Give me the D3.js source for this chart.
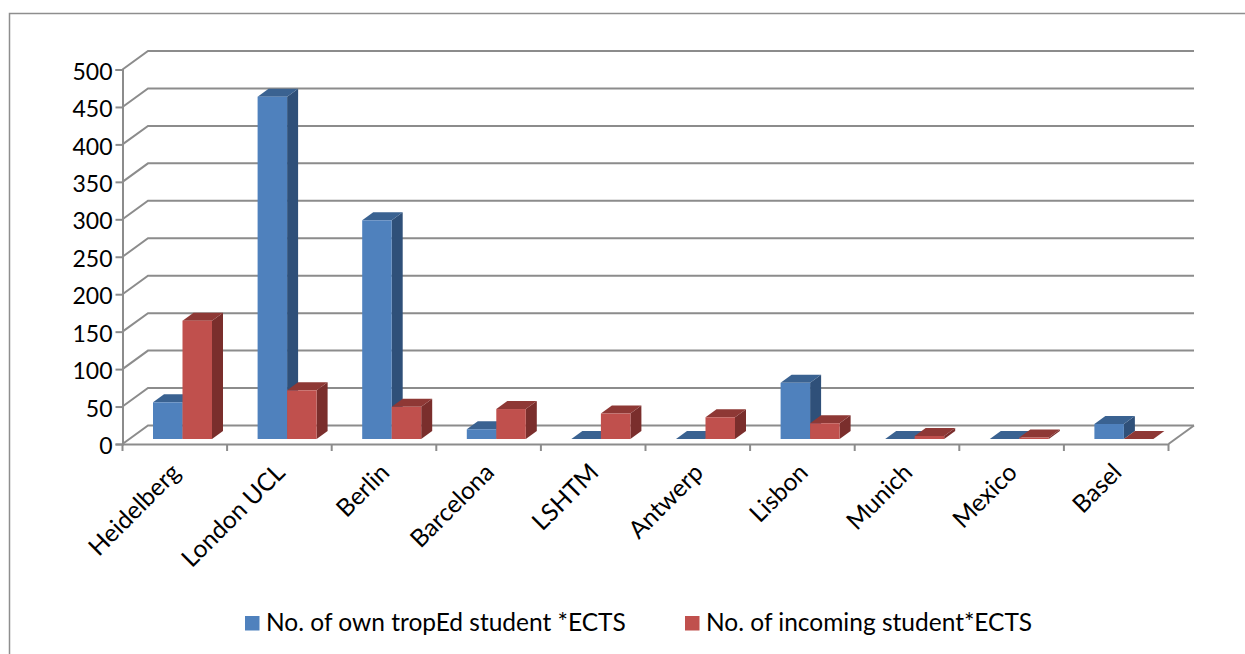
<!DOCTYPE html>
<html>
<head>
<meta charset="utf-8">
<script src="https://cdn.jsdelivr.net/npm/d3@7"></script>
<style>
html, body { margin: 0; padding: 0; background: #fff; }
svg { display: block; }
text { font-family: Lato, sans-serif; fill: #000; }
</style>
</head>
<body>
<div id="chart"></div>
<script>
var categories = ["Heidelberg", "London UCL", "Berlin", "Barcelona", "LSHTM", "Antwerp", "Lisbon", "Munich", "Mexico", "Basel"];
var ownStudents = [49, 457, 292, 13, 0, 0, 75, 0, 0, 20];
var incomingStudents = [158, 65, 43, 40, 34, 29, 21, 4, 2, 0];
var seriesNames = ["No. of own tropEd student *ECTS", "No. of incoming student*ECTS"];
var yTicks = [0, 50, 100, 150, 200, 250, 300, 350, 400, 450, 500];

var width = 1245, height = 654;
var svg = d3.select("#chart").append("svg")
  .attr("width", width)
  .attr("height", height);

// 3d look: wall is shifted from the front plane, bars sit in between
var wallDx = 25.5, wallDy = -18.5;
var barDx = 11, barDy = -8;
var barShiftX = 0, barShiftY = -5;
var gridColor = "#8c8c8c";

var x = d3.scaleBand().domain(categories).range([122.5, 1168.5]);
var y = d3.scaleLinear().domain([0, 500]).range([444, 69.5]);

// chart frame, open to the right and bottom like in the picture
svg.append("path")
  .attr("d", "M9.5,654V13.5H1245")
  .attr("fill", "none")
  .attr("stroke", "#8e8e8e")
  .attr("stroke-width", 1.5);

// gridlines on the wall
var grid = svg.append("g");
grid.selectAll("path")
  .data(yTicks)
  .enter()
  .append("path")
  .attr("d", function(d) {
    return "M" + x.range()[0] + "," + y(d) + "L" + (x.range()[0] + wallDx) + "," + (y(d) + wallDy) + "H" + (x.range()[1] + wallDx);
  })
  .attr("fill", "none")
  .attr("stroke", gridColor)
  .attr("stroke-width", 2);
grid.append("path")
  .attr("d", "M" + x.range()[1] + "," + y(0) + "L" + (x.range()[1] + wallDx) + "," + (y(0) + wallDy))
  .attr("fill", "none")
  .attr("stroke", gridColor)
  .attr("stroke-width", 2);

// axes
var yAxis = d3.axisLeft(y).tickValues(yTicks).tickSize(7).tickPadding(3);
var gy = svg.append("g").attr("transform", "translate(" + x.range()[0] + ",0)").call(yAxis);
gy.selectAll("text").attr("font-size", 23).attr("dy", "0.42em").style("font-family", "Lato, sans-serif");

var xAxis = d3.axisBottom(x).tickSize(0).tickFormat("");
var gx = svg.append("g").attr("transform", "translate(0," + y(0) + ")").call(xAxis);
gx.selectAll(".tick").remove();
gx.selectAll("line.sep")
  .data(d3.range(categories.length + 1))
  .enter()
  .append("line")
  .attr("class", "sep")
  .attr("x1", function(i) { return x.range()[0] + i * x.step(); })
  .attr("x2", function(i) { return x.range()[0] + i * x.step(); })
  .attr("y1", 0)
  .attr("y2", 7);
svg.selectAll(".domain, .tick line, line.sep")
  .attr("stroke", gridColor)
  .attr("stroke-width", 2);

// category labels, rotated
gx.selectAll("text.cat")
  .data(categories)
  .enter()
  .append("text")
  .attr("class", "cat")
  .attr("font-size", 24.5)
  .attr("text-anchor", "end")
  .attr("transform", function(d) {
    return "translate(" + (x(d) + x.step() * 0.5 + 7) + ",30) rotate(-45)";
  })
  .text(function(d) { return d; });

// bars
var series = [
  { values: ownStudents, front: "#4f81bd", top: "#3a6291", side: "#2f5079", offset: 0 },
  { values: incomingStudents, front: "#c0504d", top: "#8e3835", side: "#7a2e2c", offset: 1 }
];
var barW = 29.5;
var barStart = 30.5;

series.forEach(function(s) {
  var g = svg.append("g");
  var bar = g.selectAll("g")
    .data(s.values)
    .enter()
    .append("g")
    .attr("transform", function(d, i) {
      return "translate(" + (x(categories[i]) + barStart + s.offset * barW + barShiftX) + "," + barShiftY + ")";
    });
  bar.append("path")
    .attr("fill", s.side)
    .attr("d", function(d) {
      return "M" + barW + "," + y(d) + "l" + barDx + "," + barDy + "V" + (y(0) + barDy) + "l" + (-barDx) + "," + (-barDy) + "Z";
    });
  bar.append("path")
    .attr("fill", s.top)
    .attr("d", function(d) {
      return "M0," + y(d) + "l" + barDx + "," + barDy + "h" + barW + "l" + (-barDx) + "," + (-barDy) + "Z";
    });
  bar.append("rect")
    .attr("x", 0)
    .attr("y", function(d) { return y(d); })
    .attr("width", barW)
    .attr("height", function(d) { return y(0) - y(d); })
    .attr("fill", s.front);
});

// legend
var legendX = [245, 685];
var legend = svg.selectAll("g.legend")
  .data(seriesNames)
  .enter()
  .append("g")
  .attr("class", "legend")
  .attr("transform", function(d, i) { return "translate(" + legendX[i] + ",616)"; });
legend.append("rect")
  .attr("width", 14.5)
  .attr("height", 14.5)
  .attr("fill", function(d, i) { return series[i].front; });
legend.append("text")
  .attr("x", 21)
  .attr("y", 15)
  .attr("font-size", 24.5)
  .text(function(d) { return d; });
</script>
</body>
</html>
